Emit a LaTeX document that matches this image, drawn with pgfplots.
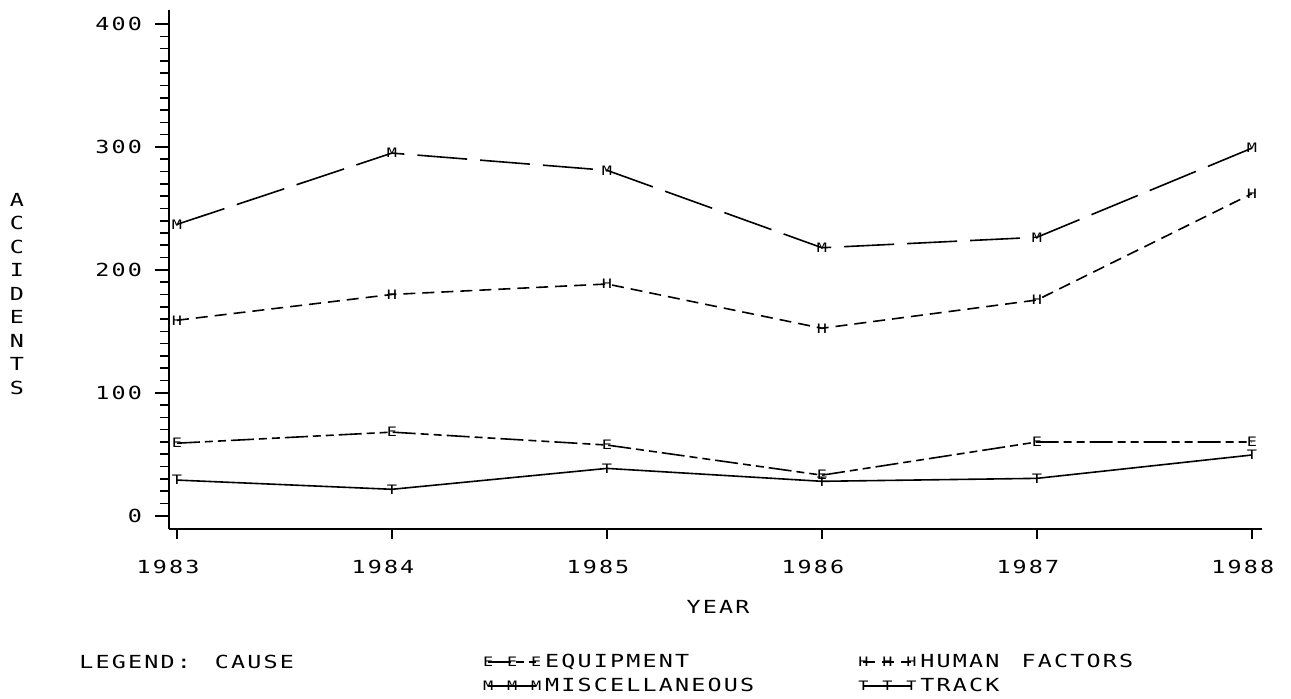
\documentclass[border=0pt]{standalone}
\usepackage{fontspec}
\setmainfont{DejaVu Sans Mono}[FakeStretch=1.3, LetterSpace=12]
\usepackage{pgfplots}
\pgfplotsset{compat=1.18}
\newcommand{\pf}{\fontsize{9}{10}\selectfont}
\newcommand{\mf}{\fontsize{6.5}{6.5}\selectfont}
\begin{document}
\begin{tikzpicture}[x=1pt,y=1pt]
\useasboundingbox (0,0) rectangle (645.5,349);
\begin{axis}[
  at={(84.5pt,84.5pt)}, anchor=south west,
  scale only axis, width=546.5pt, height=259.5pt,
  xmin=1982.963, xmax=1988.047, ymin=-10.8, ymax=411.4,
  axis x line=bottom, axis y line=left,
  axis line style={-, line width=0.8pt},
  xtick={1983,1984,1985,1986,1987,1988},
  ytick={0,100,200,300,400}, minor y tick num=9,
  tick align=outside, major tick length=7pt, minor tick length=4.5pt,
  xtick style={/pgfplots/major tick length=5pt},
  tick style={line width=0.8pt, black},
  /pgf/number format/assume math mode=true,
  /pgf/number format/1000 sep={},
  ticklabel style={font=\pf},
  yticklabel style={xshift=-3pt},
  xticklabel style={yshift=-5pt, xshift=-4.5pt},
  every axis plot/.append style={line width=0.8pt, black, mark options={solid}},
  legend columns=2,
  legend cell align=left,
  legend style={at={(0.2873,-0.2331)}, anchor=north west, draw=none, fill=none,
    inner sep=0pt, outer sep=0pt, row sep=0pt,
    font=\pf,
    nodes={inner ysep=0pt, text height=9pt, text depth=3pt},
    /tikz/every even column/.append style={column sep=50pt}},
  legend image code/.code={\draw[#1] plot coordinates {(0pt,0pt) (12pt,0pt) (24pt,0pt)};},
]
\addplot[dash pattern=on 11.5pt off 2.5pt on 4pt off 2.5pt on 4pt off 2.5pt, mark=text, text mark={\mf E}]
  coordinates {(1983,59) (1984,68) (1985,57.5) (1986,33) (1987,60) (1988,60)};
\addlegendentry{EQUIPMENT}
\addplot[dash pattern=on 6pt off 3.5pt, mark=text, text mark={\mf H}]
  coordinates {(1983,159) (1984,180) (1985,188.5) (1986,152.5) (1987,175.5) (1988,262)};
\addlegendentry{HUMAN\hspace{3pt} FACTORS}
\addplot[dash pattern=on 25pt off 6.5pt, mark=text, text mark={\mf M}]
  coordinates {(1983,237) (1984,295) (1985,281) (1986,218) (1987,226.5) (1988,299)};
\addlegendentry{MISCELLANEOUS}
\addplot[solid, mark=text, text mark={\mf T}]
  coordinates {(1983,29) (1984,21.5) (1985,38.5) (1986,28) (1987,30.4) (1988,49.4)};
\addlegendentry{TRACK}
\end{axis}
\node[align=center, font=\fontsize{9}{11.75}\selectfont, inner sep=0pt] at (8.5,202) {A\\C\\C\\I\\D\\E\\N\\T\\S};
\node[font=\pf, inner sep=0pt] at (359,45.5) {YEAR};
\node[font=\pf, inner sep=0pt, anchor=west] at (39.5,18) {LEGEND:\hspace{12pt}CAUSE};
\end{tikzpicture}
\end{document}
